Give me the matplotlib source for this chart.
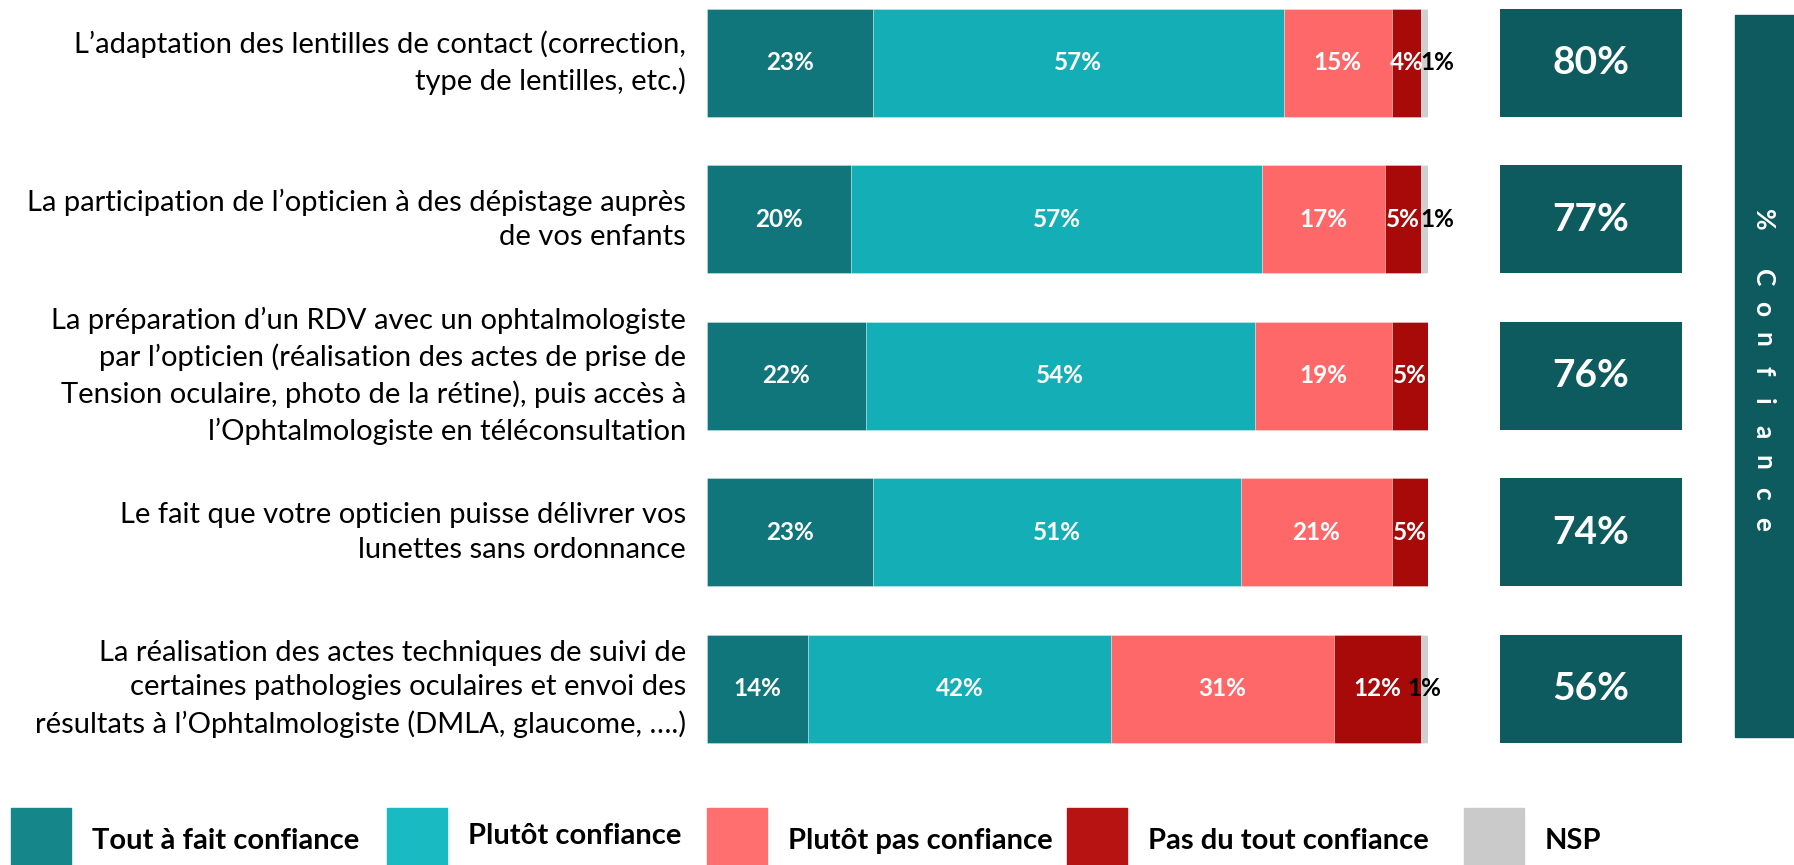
import matplotlib
matplotlib.use("Agg")
import matplotlib.pyplot as plt
from matplotlib.patches import Rectangle

plt.rcParams["font.family"] = ["Lato", "DejaVu Sans"]

W, H = 1794, 865

CATEGORIES = [
    "L’adaptation des lentilles de contact (correction,\ntype de lentilles, etc.)",
    "La participation de l’opticien à des dépistage auprès\nde vos enfants",
    "La préparation d’un RDV avec un ophtalmologiste\npar l’opticien (réalisation des actes de prise de\n"
    "Tension oculaire, photo de la rétine), puis accès à\nl’Ophtalmologiste en téléconsultation",
    "Le fait que votre opticien puisse délivrer vos\nlunettes sans ordonnance",
    "La réalisation des actes techniques de suivi de\ncertaines pathologies oculaires et envoi des\n"
    "résultats à l’Ophtalmologiste (DMLA, glaucome, ….)",
]
SERIES = ["Tout à fait confiance", "Plutôt confiance", "Plutôt pas confiance",
          "Pas du tout confiance", "NSP"]
TOUT_A_FAIT = [23, 20, 22, 23, 14]
PLUTOT = [57, 57, 54, 51, 42]
PLUTOT_PAS = [15, 17, 19, 21, 31]
PAS_DU_TOUT = [4, 5, 5, 5, 12]
NSP = [1, 1, 0, 0, 1]
TOTAL_CONFIANCE = [80, 77, 76, 74, 56]
BAND_TEXT = "%Confiance"

BAR_COLORS = ["#10767B", "#14AFB6", "#FF6868", "#A80A0A", "#CFCFCF"]
LEGEND_COLORS = ["#15868A", "#1ABAC2", "#FF6F6F", "#B81313", "#CACACA"]
BOX_COLOR = "#0D5B5F"

fig = plt.figure(figsize=(W / 100, H / 100), dpi=100)


def fx(px):
    return px / W


def fy(py):  # py measured from the top
    return 1 - py / H


# rows: centre of first row at y=63 px, spacing 156.4 px
row_gap = 156.4
ax_top = 63 - 0.4 * row_gap
ax_h = 4.8 * row_gap
bottom = fy(ax_top + ax_h)
height = ax_h / H

ax = fig.add_axes([fx(707), bottom, fx(721), height])
ax2 = fig.add_axes([fx(1500), bottom, fx(182), height])

series = [TOUT_A_FAIT, PLUTOT, PLUTOT_PAS, PAS_DU_TOUT, NSP]
rows = range(len(CATEGORIES))
left = [0] * len(CATEGORIES)
for k, vals in enumerate(series):
    ax.barh(rows, vals, left=left, height=0.69, color=BAR_COLORS[k],
            edgecolor=(1, 1, 1, 0.35), linewidth=0.6)
    for i, v in enumerate(vals):
        if v <= 0:
            continue
        xc = left[i] + v / 2
        if k == 4:
            # nudge the tiny NSP label right when the previous label is tight
            shift = 13 if PAS_DU_TOUT[i] < 10 else 0
            ax.annotate(f"{v}%", (xc, i), xytext=(shift * 0.72, 0),
                        textcoords="offset points", ha="center", va="center",
                        fontsize=17.5, fontweight="bold", color="black")
        else:
            ax.text(xc, i, f"{v}%", ha="center", va="center", fontsize=17.5,
                    fontweight="bold", color="white")
    left = [l + v for l, v in zip(left, vals)]

ax.set_xlim(0, 100)
ax.set_ylim(4.4, -0.4)
ax.axis("off")

for i, cat in enumerate(CATEGORIES):
    ax.annotate(cat, (0, i), xytext=(-21 * 0.72, 0), textcoords="offset points",
                ha="right", va="center", fontsize=21, linespacing=1.42,
                color="black", annotation_clip=False)

ax2.barh(rows, [1] * len(rows), height=0.69, color=BOX_COLOR)
for i, v in enumerate(TOTAL_CONFIANCE):
    ax2.text(0.5, i, f"{v}%", ha="center", va="center", fontsize=28,
             fontweight="bold", color="white")
ax2.set_xlim(0, 1)
ax2.set_ylim(4.4, -0.4)
ax2.axis("off")

# vertical "% Confiance" band, letters spaced out one by one
fig.patches.append(Rectangle((fx(1735), fy(737)), fx(W - 1735 + 5), (737 - 15) / H,
                             transform=fig.transFigure, color=BOX_COLOR))
y_char = 220
for j, ch in enumerate(BAND_TEXT):
    fig.text(fx(1763), fy(y_char), ch, rotation=-90, ha="center", va="center",
             fontsize=19, fontweight="bold", color="white")
    y_char += 58 if j == 0 else 30.75

# legend
legend_x = [11, 387, 707, 1067, 1464]
for k, name in enumerate(SERIES):
    x0 = legend_x[k]
    fig.patches.append(Rectangle((fx(x0), fy(870)), fx(60), 62 / H,
                                 transform=fig.transFigure, color=LEGEND_COLORS[k]))
    yt = 836 if k == 1 else 841
    fig.text(fx(x0 + 81), fy(yt), name, ha="left", va="center", fontsize=21,
             fontweight="bold", color="black")

fig.savefig("out.png", dpi=100)
